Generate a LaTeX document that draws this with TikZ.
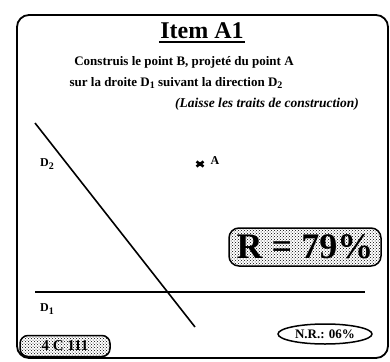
\documentclass[tikz,border=0pt]{standalone}
\usepackage{fontspec}
\setmainfont{Liberation Serif}
\usepackage{tikz}
\usetikzlibrary{arrows.meta,positioning,calc,shapes.geometric,patterns}

\newcommand{\ind}[1]{\raisebox{-2.5pt}{\fontsize{10}{10}\selectfont #1}}

\begin{document}
\begin{tikzpicture}[
    x=1pt, y=-1pt,
    frame/.style={draw, line width=1.8pt, rounded corners=12pt},
    consigne/.style={font=\bfseries\fontsize{13}{15}\selectfont, anchor=base},
    droite/.style={line width=1.6pt},
    lbl/.style={font=\bfseries\fontsize{12}{14}\selectfont},
    score/.style={draw, line width=1.5pt, rounded corners=10pt,
                  fill=black!35, pattern=crosshatch dots, pattern color=black,
                  inner sep=1pt},
    nr/.style={ellipse, draw, line width=1.5pt, fill=white, inner sep=0pt,
               font=\bfseries\fontsize{13}{14}\selectfont},
]
\useasboundingbox (0,0) rectangle (390,361);

% Cadre
\draw[frame] (17,15) rectangle (388,358);

% Titre et consigne
\node[anchor=base, font=\bfseries\fontsize{24}{28}\selectfont] (titre) at (202,38) {Item A1};
\draw[line width=1.2pt] ($(titre.base west)+(2,4)$) -- ($(titre.base east)+(-2,4)$);
\node[consigne] (l1) at (184,65) {Construis le point B, projeté du point A};
\node[consigne] (l2) at (176,86) {sur la droite D\ind{1} suivant la direction D\ind{2}};
\node[consigne, font=\bfseries\itshape\fontsize{13.5}{15}\selectfont] (l3) at (267,107)
    {(Laisse les traits de construction)};

% Droites D2 et D1
\coordinate (d2a) at (35,123);
\coordinate (d2b) at (195,327);
\coordinate (d1a) at (35,292);
\coordinate (d1b) at (365,292);
\draw[droite] (d2a) -- (d2b);
\draw[droite] (d1a) -- (d1b);
\node[lbl] (lD2) at (47,164) {D\ind{2}};
\node[lbl] (lD1) at (47,309) {D\ind{1}};

% Point A
\coordinate (ptA) at (200,164);
\draw[line width=2.6pt] ($(ptA)+(-3.5,-2.5)$) -- ($(ptA)+(3.5,2.5)$);
\draw[line width=2.6pt] ($(ptA)+(-3.5,2.5)$) -- ($(ptA)+(3.5,-2.5)$);
\node[lbl, right=7pt of ptA, yshift=3pt] (lA) {A};

% Resultats
\node[score, minimum width=152pt, minimum height=38pt,
      font=\bfseries\fontsize{36}{38}\selectfont] (reussite) at (305,247) {R = 79\%};
\node[score, rounded corners=8pt, minimum width=90pt, minimum height=21pt,
      font=\bfseries\fontsize{15}{16}\selectfont] (code) at (65,346) {4 C 111};
\node[nr, minimum width=94pt, minimum height=20pt] (nonrep) at (325,334) {N.R.: 06\%};

\end{tikzpicture}
\end{document}
